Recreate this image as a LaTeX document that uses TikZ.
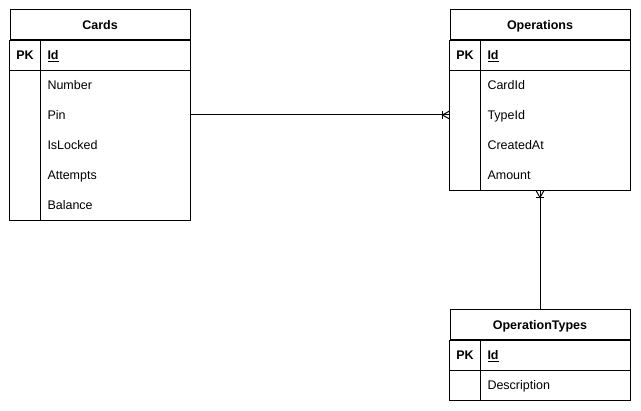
\documentclass[tikz,border=0pt]{standalone}
\usepackage{fontspec}
\setmainfont{Liberation Sans}
\usetikzlibrary{positioning}

\begin{document}
\begin{tikzpicture}[x = 1pt, y = -1pt, line width = 1pt]
	\tikzstyle{headStyle} = [draw, minimum width = 180pt, minimum height = 30pt, inner sep = 0pt, text height = 9pt, text depth = 0.5pt, font = \fontsize{12.5}{14}\selectfont\bfseries]
	\tikzstyle{keyStyle} = [minimum width = 30pt, minimum height = 30pt, inner sep = 0pt, text height = 9pt, text depth = 0.5pt, font = \fontsize{12.5}{14}\selectfont\bfseries]
	\tikzstyle{fieldStyle} = [minimum height = 30pt, text width = 135pt, inner xsep = 7.5pt, inner ysep = 0pt, text height = 9pt, text depth = 0.5pt, align = left, font = \fontsize{12.5}{14}\selectfont]
	\useasboundingbox (0,0) rectangle (641,411);
	% Cards
	\node[headStyle] (cards) at (100,25) {Cards};
	\node[keyStyle] (cards-k0) at (25,55) {PK};
	\node[fieldStyle] (cards-f0) at (115,55) {\textbf{\underline{Id}}};
	\foreach \name [count = \i] in {Number, Pin, IsLocked, Attempts, Balance}{
		\node[keyStyle] (cards-k\i) at (25,55+30*\i) {};
		\node[fieldStyle] (cards-f\i) at (115,55+30*\i) {\name};
	}
	\draw (cards.south west) rectangle (cards-f5.south east);
	\draw (cards-k0.north east) -- (cards-k5.south east);
	\draw (cards-k0.south west) -- (cards-f0.south east);
	% Operations
	\node[headStyle] (ops) at (540,25) {Operations};
	\node[keyStyle] (ops-k0) at (465,55) {PK};
	\node[fieldStyle] (ops-f0) at (555,55) {\textbf{\underline{Id}}};
	\foreach \name [count = \i] in {CardId, TypeId, CreatedAt, Amount}{
		\node[keyStyle] (ops-k\i) at (465,55+30*\i) {};
		\node[fieldStyle] (ops-f\i) at (555,55+30*\i) {\name};
	}
	\draw (ops.south west) rectangle (ops-f4.south east);
	\draw (ops-k0.north east) -- (ops-k4.south east);
	\draw (ops-k0.south west) -- (ops-f0.south east);
	% OperationTypes
	\node[headStyle] (optypes) at (540,325) {OperationTypes};
	\node[keyStyle] (optypes-k0) at (465,355) {PK};
	\node[fieldStyle] (optypes-f0) at (555,355) {\textbf{\underline{Id}}};
	\node[keyStyle] (optypes-k1) at (465,385) {};
	\node[fieldStyle] (optypes-f1) at (555,385) {Description};
	\draw (optypes.south west) rectangle (optypes-f1.south east);
	\draw (optypes-k0.north east) -- (optypes-k1.south east);
	\draw (optypes-k0.south west) -- (optypes-f0.south east);
	% relations
	\coordinate (ops-bottom) at (ops.center |- ops-f4.south);
	\draw (cards-f2.east) -- (ops-k2.west);
	\draw (ops-k2.west) ++(0,-4) -- ++(-7,4) -- ++(7,4);
	\draw (ops-k2.west) ++(-7,-4) -- ++(0,8);
	\draw (ops-bottom) -- (optypes.north);
	\draw (ops-bottom) ++(-4,0) -- ++(4,7) -- ++(4,-7);
	\draw (ops-bottom) ++(-4,7) -- ++(8,0);
\end{tikzpicture}
\end{document}
